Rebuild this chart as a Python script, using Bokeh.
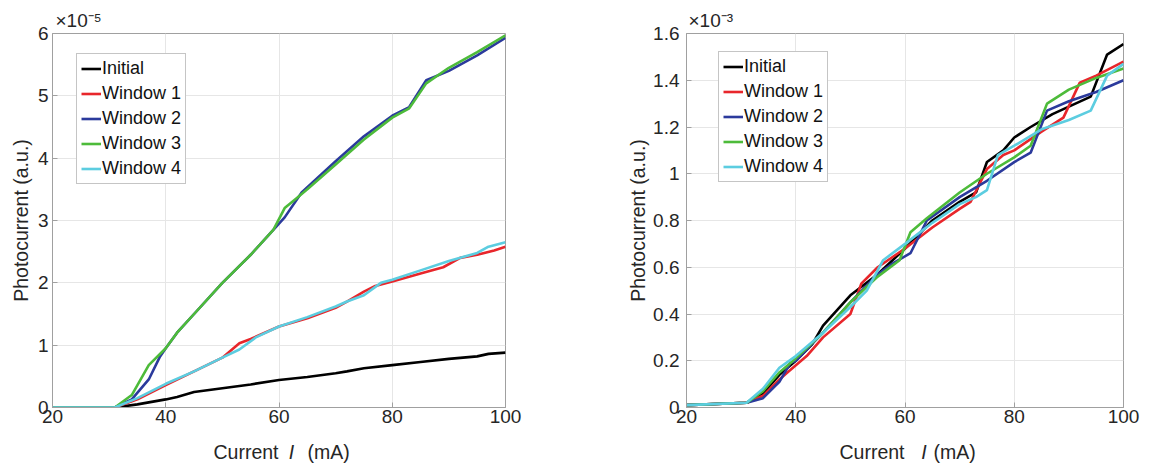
from bokeh.plotting import figure
from bokeh.layouts import row, column
from bokeh.models import Legend, LegendItem, Range1d, FixedTicker, Title, ColumnDataSource
from bokeh.core.properties import value
from bokeh.embed import file_html
from bokeh.resources import INLINE

# ---------------- data (left panel, units of 1e-5) ----------------
L_init_x = [20, 31, 35, 40, 42, 45, 50, 55, 60, 65, 70, 72, 75, 80, 85, 90, 95, 97, 100]
L_init_y = [0, 0, 0.05, 0.13, 0.17, 0.25, 0.31, 0.37, 0.44, 0.49, 0.55, 0.58, 0.63, 0.68, 0.73, 0.78, 0.82, 0.86, 0.88]
L_w1_x = [20, 31, 35, 40, 45, 50, 53, 55, 60, 65, 70, 72, 75, 77, 80, 85, 89, 92, 95, 98, 100]
L_w1_y = [0, 0, 0.13, 0.36, 0.58, 0.8, 1.03, 1.1, 1.3, 1.43, 1.6, 1.7, 1.86, 1.95, 2.02, 2.15, 2.25, 2.4, 2.45, 2.52, 2.58]
L_w2_x = [20, 31, 34, 37, 39, 40, 42, 45, 50, 55, 58, 60, 61, 64, 70, 75, 80, 83, 86, 90, 95, 100]
L_w2_y = [0, 0, 0.13, 0.45, 0.82, 0.95, 1.2, 1.5, 2.0, 2.45, 2.75, 2.95, 3.05, 3.45, 3.95, 4.35, 4.68, 4.82, 5.25, 5.4, 5.65, 5.93]
L_w3_x = [20, 31, 34, 37, 40, 42, 45, 50, 55, 59, 61, 63, 65, 70, 75, 80, 83, 86, 90, 95, 100]
L_w3_y = [0, 0, 0.2, 0.68, 0.95, 1.2, 1.5, 2.0, 2.45, 2.85, 3.2, 3.35, 3.5, 3.9, 4.3, 4.65, 4.8, 5.2, 5.45, 5.7, 5.97]
L_w4_x = [20, 31, 35, 40, 45, 50, 53, 56, 60, 65, 70, 72, 75, 78, 80, 85, 90, 95, 97, 100]
L_w4_y = [0, 0, 0.15, 0.38, 0.58, 0.8, 0.93, 1.13, 1.3, 1.45, 1.62, 1.7, 1.8, 2.0, 2.05, 2.2, 2.35, 2.48, 2.58, 2.65]

# ---------------- data (right panel, units of 1e-3) ----------------
R_init_x = [20, 31, 34, 37, 40, 43, 45, 50, 55, 60, 65, 70, 73, 75, 78, 80, 83, 87, 94, 97, 100]
R_init_y = [0.01, 0.02, 0.06, 0.14, 0.2, 0.27, 0.35, 0.48, 0.57, 0.68, 0.8, 0.88, 0.92, 1.05, 1.1, 1.155, 1.2, 1.255, 1.33, 1.51, 1.555]
R_w1_x = [20, 31, 34, 37, 39, 42, 45, 50, 52, 55, 60, 65, 70, 72, 75, 78, 80, 85, 89, 92, 95, 100]
R_w1_y = [0.01, 0.02, 0.05, 0.12, 0.16, 0.22, 0.3, 0.4, 0.53, 0.6, 0.68, 0.77, 0.85, 0.88, 1.02, 1.08, 1.1, 1.18, 1.24, 1.39, 1.42, 1.48]
R_w2_x = [20, 31, 34, 37, 39, 40, 45, 50, 55, 58, 61, 64, 70, 75, 80, 83, 86, 90, 95, 100]
R_w2_y = [0.01, 0.02, 0.04, 0.11, 0.19, 0.2, 0.32, 0.45, 0.57, 0.62, 0.66, 0.8, 0.9, 0.97, 1.05, 1.09, 1.27, 1.31, 1.35, 1.4]
R_w3_x = [20, 31, 34, 37, 40, 45, 50, 55, 59, 61, 64, 70, 75, 80, 83, 86, 90, 95, 100]
R_w3_y = [0.01, 0.02, 0.07, 0.15, 0.21, 0.32, 0.45, 0.56, 0.63, 0.75, 0.81, 0.92, 1.0, 1.07, 1.12, 1.3, 1.36, 1.41, 1.45]
R_w4_x = [20, 31, 34, 37, 40, 45, 50, 53, 56, 60, 65, 70, 73, 75, 77, 80, 85, 90, 94, 97, 100]
R_w4_y = [0.01, 0.02, 0.08, 0.17, 0.22, 0.32, 0.43, 0.5, 0.63, 0.7, 0.79, 0.87, 0.9, 0.93, 1.08, 1.12, 1.19, 1.23, 1.27, 1.42, 1.47]

names = ["Initial", "Window 1", "Window 2", "Window 3", "Window 4"]
colors = ["#000000", "#e8262b", "#2b3a9c", "#4dbb3a", "#5ccde0"]
x_ticks = [20, 40, 60, 80, 100]
left_y_ticks = [0, 1, 2, 3, 4, 5, 6]
right_y_ticks = [0, 0.2, 0.4, 0.6, 0.8, 1.0, 1.2, 1.4, 1.6]
xlabel_parts = ["Current", "I", "(mA)"]
ylabel = "Photocurrent (a.u.)"
left_exp = "\u00d710\u207b\u2075"
right_exp = "\u00d710\u207b\u00b3"

FONT = "Liberation Sans"
AX = "#a0a0a0"
TXT = "#262626"
MAIN_H = 430
STRIP_H = 36


def make_panel(series, ymax, yticks, exp_text, exp_offset, width, bl, br, legend_x, legend_y,
               tick_standoff, title_standoff):
    p = figure(width=width, height=MAIN_H, output_backend="svg", toolbar_location=None,
               x_range=Range1d(20, 100), y_range=Range1d(0, ymax),
               min_border_left=bl, min_border_right=br, min_border_top=33, min_border_bottom=23)
    p.outline_line_color = AX
    p.outline_line_width = 1
    p.background_fill_color = "white"
    p.border_fill_color = "white"
    p.xaxis.ticker = FixedTicker(ticks=x_ticks)
    p.yaxis.ticker = FixedTicker(ticks=yticks)
    if ymax < 3:
        ov = {t: "%.1f" % t for t in yticks}
        ov[0] = "0"
        ov[1.0] = "1"
        p.yaxis.major_label_overrides = ov
    for ax in [p.xaxis[0], p.yaxis[0]]:
        ax.axis_line_color = AX
        ax.major_tick_line_color = AX
        ax.major_tick_in = 5
        ax.major_tick_out = 0
        ax.minor_tick_line_color = None
        ax.major_label_text_font = FONT
        ax.major_label_text_font_size = "19px"
        ax.major_label_text_color = TXT
    p.xaxis.major_label_standoff = 2
    p.yaxis.major_label_standoff = tick_standoff
    p.grid.grid_line_color = "#e6e6e6"
    p.xgrid.ticker = FixedTicker(ticks=x_ticks)
    p.ygrid.ticker = FixedTicker(ticks=yticks)

    # y axis label as a vertical title on the left
    p.add_layout(Title(text=ylabel, text_font=FONT, text_font_size="19.5px", text_font_style="normal",
                       text_color=TXT, align="center", standoff=title_standoff), "left")
    # scale exponent above the frame
    p.add_layout(Title(text=exp_text, text_font=FONT, text_font_size="19px", text_font_style="normal",
                       text_color=TXT, align="left", offset=exp_offset, standoff=6), "above")

    items = []
    for (xs, ys), name, c in zip(series, names, colors):
        r = p.line(xs, ys, line_color=c, line_width=2.6)
        items.append(LegendItem(label=name, renderers=[r]))
    leg = Legend(items=items, location=(legend_x, legend_y))
    leg.label_text_font = FONT
    leg.label_text_font_size = "18px"
    leg.label_text_color = "#111111"
    leg.glyph_width = 20
    leg.glyph_height = 19
    leg.label_height = 19
    leg.spacing = 4
    leg.label_standoff = 1
    leg.padding = 4
    leg.margin = 0
    leg.border_line_color = "#8c8c8c"
    leg.border_line_width = 1
    leg.background_fill_alpha = 1
    p.add_layout(leg, "center")
    return p


def make_xlabel(width, bl, br, offsets):
    s = figure(width=width, height=STRIP_H, output_backend="svg", toolbar_location=None,
               x_range=Range1d(20, 100), y_range=Range1d(0, 1), x_axis_type=None, y_axis_type=None,
               min_border_left=bl, min_border_right=br, min_border_top=0, min_border_bottom=0)
    s.outline_line_color = None
    s.grid.visible = False
    src = ColumnDataSource(dict(x=[60, 60, 60], y=[0.4, 0.4, 0.4], text=xlabel_parts,
                                dx=offsets, align=["right", "center", "left"],
                                style=["normal", "italic", "normal"]))
    s.text(x="x", y="y", text="text", x_offset="dx", text_align="align", text_font_style="style",
           text_baseline="middle", text_font=value(FONT), text_font_size=value("19.5px"),
           text_color=TXT, source=src)
    return s


left = make_panel([(L_init_x, L_init_y), (L_w1_x, L_w1_y), (L_w2_x, L_w2_y), (L_w3_x, L_w3_y), (L_w4_x, L_w4_y)],
                  6, left_y_ticks, left_exp, 3, 600, 52, 95, 24, 223, 4, 6)
right_p = make_panel([(R_init_x, R_init_y), (R_w1_x, R_w1_y), (R_w2_x, R_w2_y), (R_w3_x, R_w3_y), (R_w4_x, R_w4_y)],
                     1.6, right_y_ticks, right_exp, 2, 560, 86, 37, 32, 225, 7, 4)

layout = column(
    row(left, right_p, spacing=0),
    row(make_xlabel(600, 52, 95, [-0.5, 12.5, 28.5]),
        make_xlabel(560, 86, 37, [-0.5, 19, 28.5]), spacing=0),
    spacing=0)
open("out.html", "w").write(file_html(layout, INLINE))
